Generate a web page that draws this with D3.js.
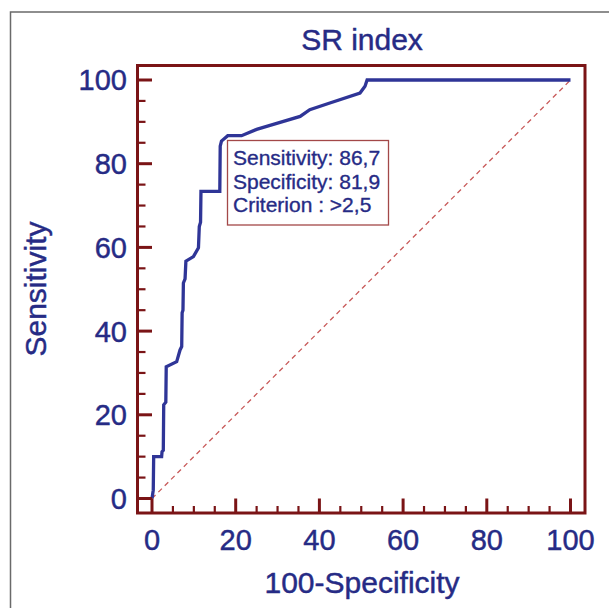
<!DOCTYPE html>
<html>
<head>
<meta charset="utf-8">
<script src="https://cdn.jsdelivr.net/npm/d3@7"></script>
<style>
  html, body { margin: 0; padding: 0; background: #fff; }
  svg { display: block; }
  text { font-family: "Liberation Sans", Arial, sans-serif; }
</style>
</head>
<body>
<div id="chart"></div>
<script>
// ---- data ----
const title = "SR index";
const xLabel = "100-Specificity";
const yLabel = "Sensitivity";
const xTicks = [0, 20, 40, 60, 80, 100];
const yTicks = [0, 20, 40, 60, 80, 100];
// ROC curve: 100-specificity (x) and sensitivity (y)
const rocX = [0, 0.3, 0.4, 2.3, 2.4, 2.7, 2.8, 3.3, 3.4, 5.9, 6.7, 7.1, 7.2, 7.4, 7.5, 7.9, 8.1, 9.9, 11.1, 11.3, 11.6, 11.7, 16.2, 16.3, 16.6, 18.1, 21.4, 25.0, 29.0, 35.4, 37.7, 42.5, 49.7, 50.9, 51.4, 100];
const rocY = [0, 2, 10, 10, 11.2, 11.5, 22.4, 23, 31.5, 32.7, 35.5, 36.3, 44.4, 45, 51.5, 52.5, 56.7, 57.8, 59.9, 65, 66, 73.4, 73.4, 84.2, 85.4, 86.7, 86.7, 88.2, 89.4, 91.3, 92.9, 94.5, 96.9, 98.5, 100, 100];
const infoLines = ["Sensitivity: 86,7", "Specificity: 81,9", "Criterion : >2,5"];

// ---- layout ----
const W = 609, H = 608;
const navy = "#262b85";
const curveColor = "#2f3597";
const frameColor = "#7a1416";

const svg = d3.select("#chart").append("svg")
  .attr("width", W).attr("height", H);

svg.append("rect").attr("width", W).attr("height", H).attr("fill", "#fff");

// outer border (partially visible)
svg.append("rect")
  .attr("x", 10.5).attr("y", 12).attr("width", 640).attr("height", 640)
  .attr("fill", "none").attr("stroke", "#6a6a6a").attr("stroke-width", 1.5);

const x = d3.scaleLinear().domain([0, 100]).range([152, 570.5]);
const y = d3.scaleLinear().domain([0, 100]).range([498.5, 80]);
const pad = 14.5;
const fx0 = x(0) - pad, fx1 = x(100) + pad, fy0 = y(100) - pad, fy1 = y(0) + pad;

// diagonal reference line
svg.append("line")
  .attr("x1", x(0)).attr("y1", y(0)).attr("x2", x(100)).attr("y2", y(100))
  .attr("stroke", "#c85a5a").attr("stroke-width", 1.3)
  .attr("stroke-dasharray", "5,4");

// ROC curve
const pts = rocX.map((v, i) => [v, rocY[i]]);
svg.append("path")
  .attr("d", d3.line().x(d => x(d[0])).y(d => y(d[1]))(pts))
  .attr("fill", "none").attr("stroke", curveColor).attr("stroke-width", 3.3)
  .attr("stroke-linejoin", "miter");

// frame
svg.append("rect")
  .attr("x", fx0).attr("y", fy0).attr("width", fx1 - fx0).attr("height", fy1 - fy0)
  .attr("fill", "none").attr("stroke", frameColor).attr("stroke-width", 3);

// ticks (inward)
const minor = d3.range(0, 101, 5);
const g = svg.append("g").attr("stroke", frameColor);
minor.forEach(v => {
  const major = v % 20 === 0;
  g.append("line")
    .attr("x1", fx0).attr("x2", major ? x(0) : fx0 + 8)
    .attr("y1", y(v)).attr("y2", y(v))
    .attr("stroke-width", major ? 3 : 2.2);
  g.append("line")
    .attr("y1", fy1).attr("y2", major ? y(0) : fy1 - 7)
    .attr("x1", x(v)).attr("x2", x(v))
    .attr("stroke-width", major ? 3 : 2.2);
});

// tick labels
const fs = 29;
const txt = sel => sel.attr("fill", navy).attr("stroke", navy).attr("stroke-width", 0.45);
svg.append("g").selectAll("text").data(yTicks).join("text")
  .attr("x", 127).attr("y", d => y(d)).attr("dy", "0.36em")
  .attr("text-anchor", "end").attr("font-size", fs)
  .call(txt).text(d => d);
svg.append("g").selectAll("text").data(xTicks).join("text")
  .attr("x", d => x(d)).attr("y", 550)
  .attr("text-anchor", "middle").attr("font-size", fs)
  .call(txt).text(d => d);

// title and axis labels
svg.append("text").attr("x", 362).attr("y", 50).attr("text-anchor", "middle")
  .attr("font-size", 30).call(txt).text(title);
svg.append("text").attr("x", 362).attr("y", 593).attr("text-anchor", "middle")
  .attr("font-size", 30).call(txt).text(xLabel);
svg.append("text").attr("transform", "translate(46,289) rotate(-90)")
  .attr("text-anchor", "middle").attr("font-size", 30).call(txt).text(yLabel);

// info box
svg.append("rect")
  .attr("x", 227.5).attr("y", 140.5).attr("width", 161).attr("height", 84.5)
  .attr("fill", "#fff").attr("stroke", "#a34848").attr("stroke-width", 1.3);
svg.append("g").selectAll("text").data(infoLines).join("text")
  .attr("x", 233).attr("y", (d, i) => 165 + i * 23.6)
  .attr("font-size", 21).call(txt).attr("stroke-width", 0.35).text(d => d);
</script>
</body>
</html>
